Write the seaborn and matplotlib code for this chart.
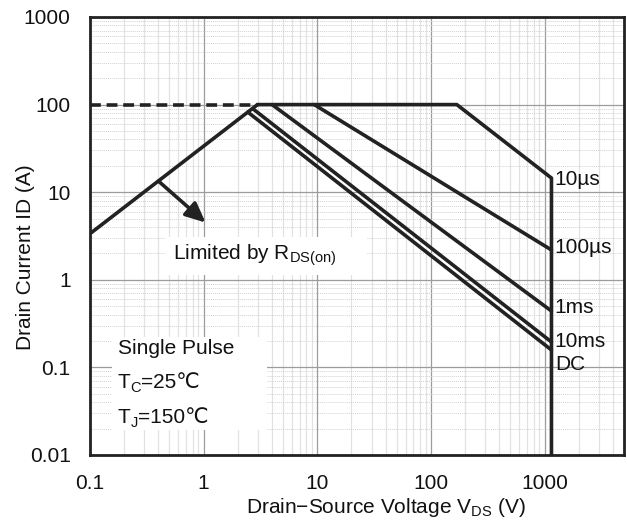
import matplotlib
matplotlib.use("Agg")
import matplotlib.pyplot as plt
import seaborn as sns
import numpy as np
import pandas as pd
from matplotlib.patches import Rectangle
from matplotlib.ticker import LogLocator, NullFormatter

sns.set_style("white")
plt.rcParams['font.family'] = ['Liberation Sans', 'DejaVu Sans']
plt.rcParams['mathtext.fontset'] = 'custom'
plt.rcParams['mathtext.rm'] = 'Liberation Sans'
plt.rcParams['mathtext.it'] = 'Liberation Sans'

# ---- data ----
rds_v = [0.1, 2.98]
rds_i = [3.36, 100]
dash_v = [0.1, 2.98]
dash_i = [100, 100]
us10_v = [2.98, 169, 1150, 1150]
us10_i = [100, 100, 14.5, 0.01]
us100_v = [9.4, 1150]
us100_i = [100, 2.19]
ms1_v = [4.0, 1150]
ms1_i = [100, 0.44]
ms10_v = [2.7, 1150]
ms10_i = [90, 0.195]
dc_v = [2.45, 1150]
dc_i = [82, 0.158]

curve_labels = ["10µs", "100µs", "1ms", "10ms", "DC"]
label_i = [13.8, 2.31, 0.477, 0.2, 0.109]

x_ticks = [0.1, 1, 10, 100, 1000]
x_ticklabels = ["0.1", "1", "10", "100", "1000"]
y_ticks = [0.01, 0.1, 1, 10, 100, 1000]
y_ticklabels = ["0.01", "0.1", "1", "10", "100", "1000"]

FS = 15

fig = plt.figure(figsize=(6.27, 5.21), dpi=100)
ax = fig.add_axes([90/627, 1-455/521, 534/627, 438/521])
ax.set_xscale('log')
ax.set_yscale('log')
ax.set_xlim(0.1, 5000)
ax.set_ylim(0.01, 1000)

lc = '#222222'
lw = 2.6
solid = [(rds_v, rds_i), (us10_v, us10_i), (us100_v, us100_i),
         (ms1_v, ms1_i), (ms10_v, ms10_i), (dc_v, dc_i)]
for v, i in solid:
    df = pd.DataFrame({'V': v, 'I': i})
    sns.lineplot(data=df, x='V', y='I', ax=ax, sort=False, estimator=None,
                 color=lc, lw=lw, zorder=5)
df = pd.DataFrame({'V': dash_v, 'I': dash_i})
sns.lineplot(data=df, x='V', y='I', ax=ax, sort=False, estimator=None,
             color=lc, lw=lw, zorder=5, linestyle=(0, (3, 1.6)))

# grid
ax.xaxis.set_minor_locator(LogLocator(base=10, subs=np.arange(2, 10)))
ax.yaxis.set_minor_locator(LogLocator(base=10, subs=np.arange(2, 10)))
ax.xaxis.set_minor_formatter(NullFormatter())
ax.yaxis.set_minor_formatter(NullFormatter())
ax.grid(which='major', axis='both', color='#9c9c9c', lw=0.9, zorder=0)
ax.grid(which='minor', axis='x', color='#e2e2e2', lw=0.9, zorder=0)
ax.grid(which='minor', axis='y', color='#d2d2d2', lw=0.7, ls=(0, (1, 1)), zorder=0)
ax.set_axisbelow(True)

ax.set_xticks(x_ticks)
ax.set_xticklabels(x_ticklabels)
ax.set_yticks(y_ticks)
ax.set_yticklabels(y_ticklabels)
ax.tick_params(which='major', direction='in', length=5, width=1, color='#333333',
               labelsize=FS, pad=14, labelcolor='#111111')
ax.tick_params(which='minor', direction='in', length=3, width=0.8, color='#bbbbbb')
for s in ax.spines.values():
    s.set_color('#222222')
    s.set_linewidth(2)

ax.set_xlabel("Drain\u2212Source Voltage V$_\\mathregular{DS}$ (V)", fontsize=FS, color='#111111')
ax.set_ylabel("Drain Current ID (A)", fontsize=FS, color='#111111')
ax.xaxis.set_label_coords(0.554, -0.094)
ax.yaxis.set_label_coords(-0.103, 0.452)

# curve labels
for lab, yi in zip(curve_labels, label_i):
    ax.text(1230, yi, lab, fontsize=FS, va='center', ha='left', zorder=6, color='#111111')

# text boxes
ax.add_patch(Rectangle((0.140, 0.411), 0.379, 0.087, transform=ax.transAxes,
                       facecolor='white', edgecolor='none', zorder=3))
ax.text(0.535, 1.92, "Limited by R$_\\mathregular{DS(on)}$", fontsize=FS,
        va='center', ha='left', zorder=6, color='#111111')
ax.add_patch(Rectangle((0.041, 0.057), 0.290, 0.212, transform=ax.transAxes,
                       facecolor='white', edgecolor='none', zorder=3))
ax.text(0.176, 0.166, "Single Pulse", fontsize=FS, va='center', ha='left', zorder=6,
        color='#111111')


def sub_text(x, y, main, sub, rest):
    t1 = ax.text(x, y, main, fontsize=FS, va='center', ha='left', zorder=6, color='#111111')
    t2 = ax.annotate(sub, xy=(1, 0), xycoords=t1, xytext=(0, -2.3),
                     textcoords='offset points', fontsize=10.5, va='bottom',
                     ha='left', zorder=6, color='#111111')
    ax.annotate(rest, xy=(1, 0), xycoords=(t2, t1), fontsize=FS, va='bottom',
                ha='left', zorder=6, color='#111111')


sub_text(0.176, 0.068, "T", "C", "=25\u2103")
sub_text(0.176, 0.027, "T", "J", "=150\u2103")

# arrow
ax.annotate("", xy=(1.04, 4.5), xytext=(0.4, 13.4),
            arrowprops=dict(arrowstyle='-|>,head_length=1.2,head_width=0.55',
                            color=lc, lw=2.6, shrinkA=0, shrinkB=0), zorder=6)

fig.savefig("out.png", dpi=100)
